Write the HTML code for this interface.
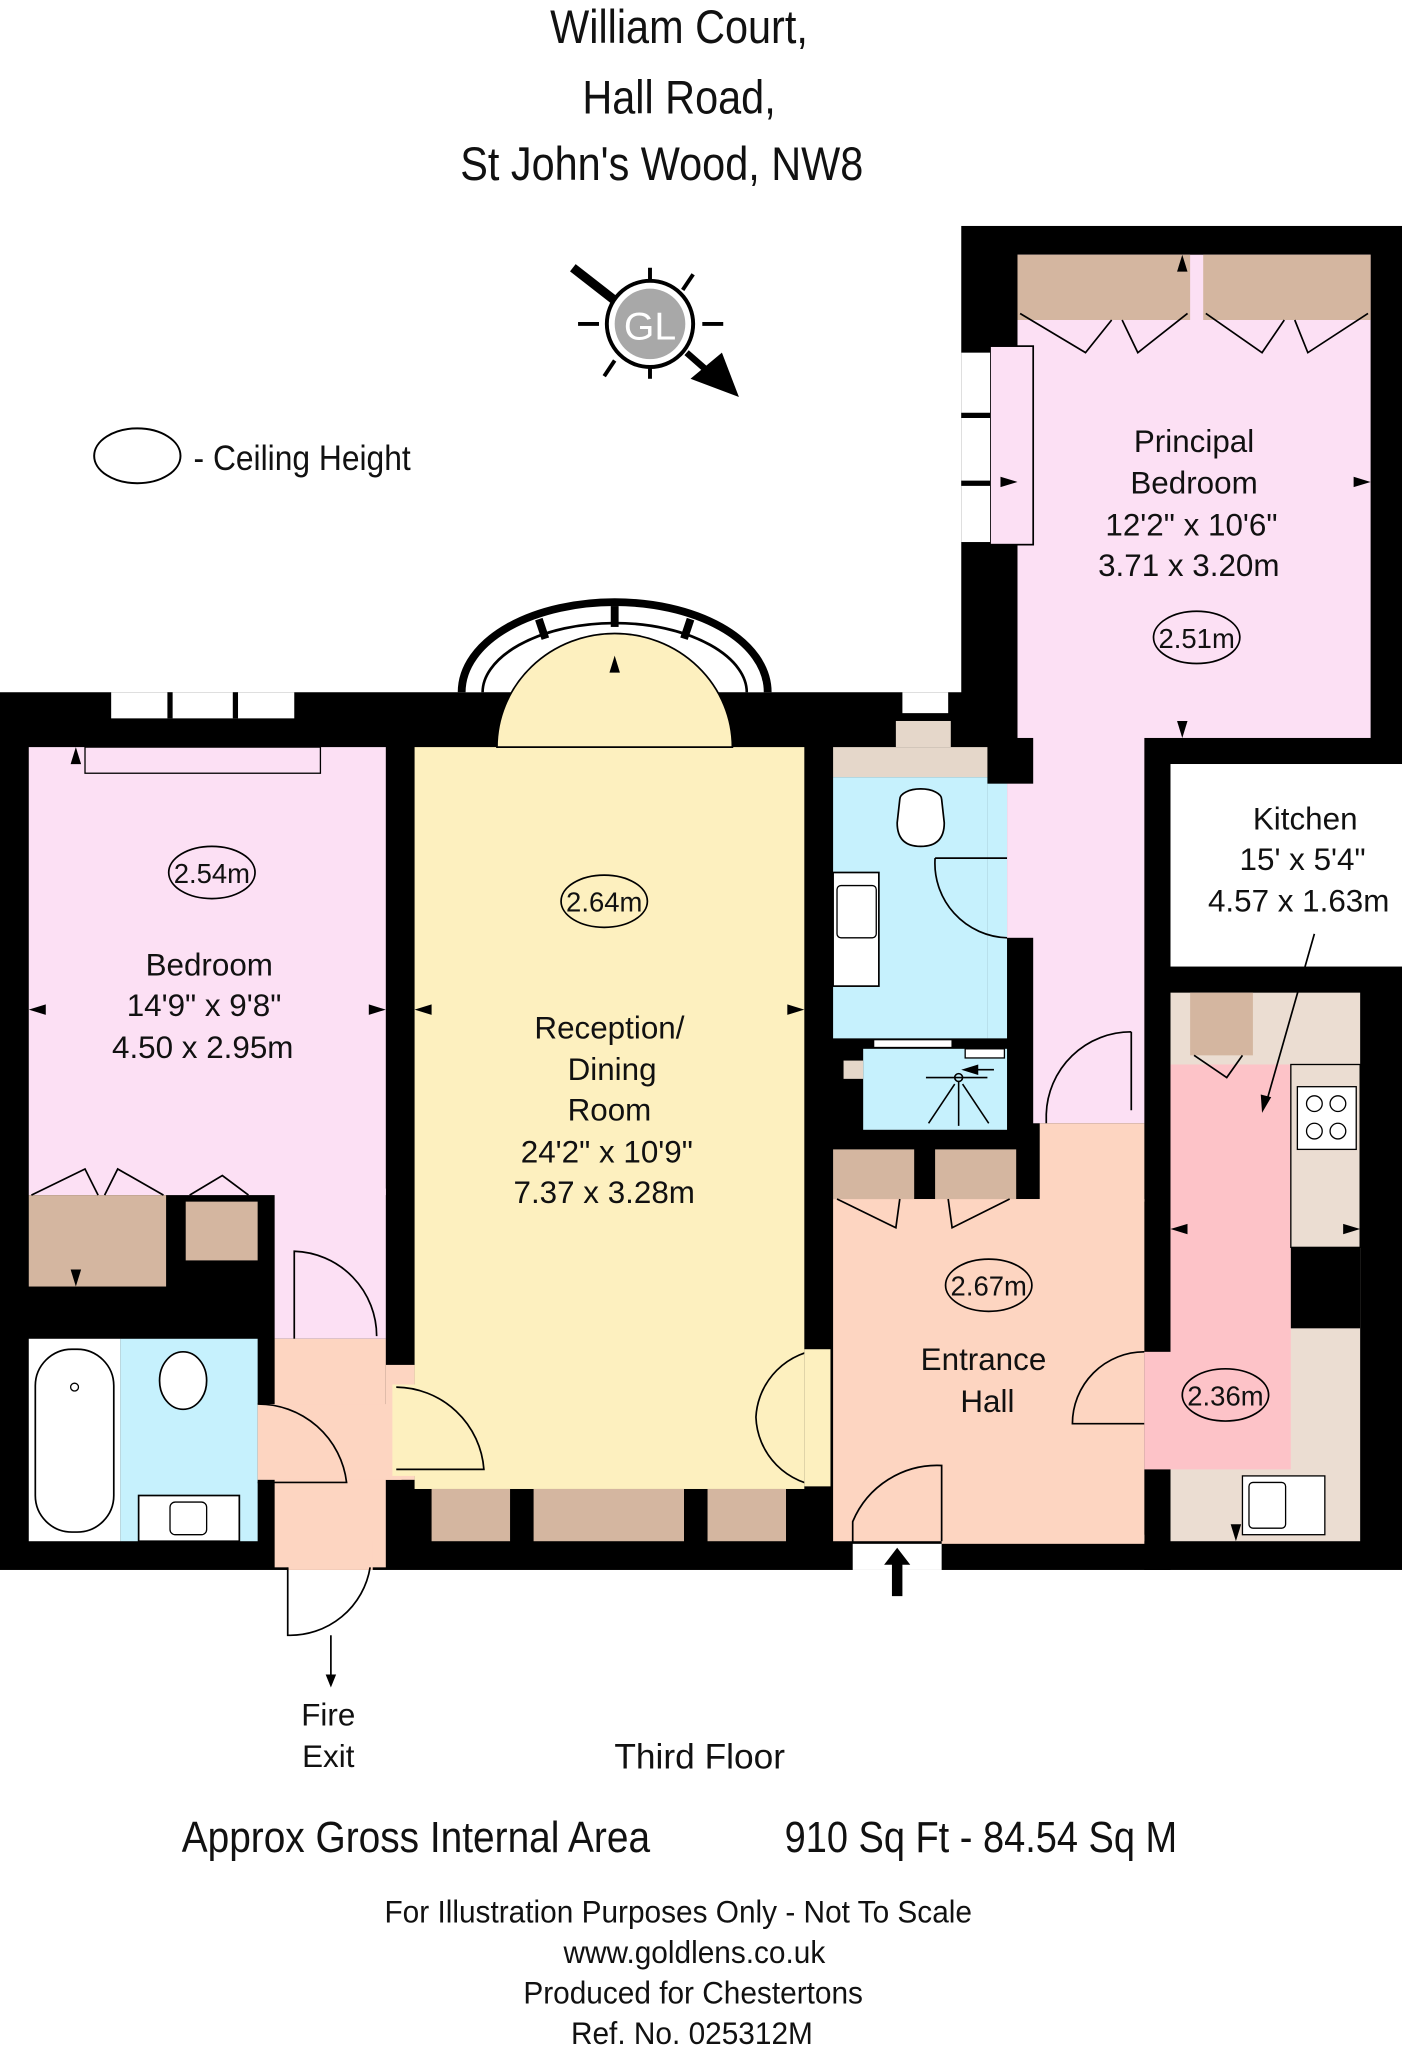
<!DOCTYPE html>
<html><head><meta charset="utf-8"><style>
html,body{margin:0;padding:0;background:#fff;}
svg{display:block;}
text{font-family:"Liberation Sans",sans-serif;fill:#111;}
</style></head><body>
<svg width="1402" height="2048" viewBox="0 0 1072 1568" preserveAspectRatio="none" xmlns="http://www.w3.org/2000/svg">
<g font-size="36" text-anchor="middle" transform="scale(0.88,1)">
<text x="590" y="33" font-size="36">William Court,</text>
<text x="590" y="87" font-size="36">Hall Road,</text>
<text x="575" y="138" font-size="36">St John's Wood, NW8</text>
</g>
<g stroke="#000" stroke-width="3">
<line x1="497" y1="205" x2="497" y2="222"/><line x1="497" y1="272" x2="497" y2="290"/>
<line x1="442" y1="248" x2="458" y2="248"/><line x1="537" y1="248" x2="553" y2="248"/>
<line x1="462" y1="288" x2="470" y2="276"/><line x1="530" y1="210" x2="522" y2="222"/>
<line x1="438" y1="205" x2="470" y2="230" stroke-width="7"/>
<line x1="525" y1="270" x2="550" y2="292" stroke-width="5"/>
</g>
<polygon points="565,304 528,290 552,270" fill="#000"/>
<circle cx="497" cy="248" r="33" fill="#fff" stroke="#000" stroke-width="3"/>
<circle cx="497" cy="248" r="27" fill="#a8a8a8"/>
<text x="497" y="260" font-size="30" text-anchor="middle" style="fill:#fff">GL</text>
<ellipse cx="105" cy="349" rx="33" ry="21" fill="#fff" stroke="#000" stroke-width="1.5"/>
<text x="148" y="360" font-size="27" transform="translate(148,0) scale(0.9,1) translate(-148,0)">- Ceiling Height</text>

<rect x="735" y="173" width="337" height="412" fill="#000"/>
<rect x="0" y="530" width="895" height="672" fill="#000"/>
<rect x="875" y="565" width="20" height="637" fill="#000"/>
<rect x="875" y="740" width="197" height="462" fill="#000"/>
<rect x="735" y="560" width="160" height="30" fill="#000"/>
<rect x="895" y="585" width="177" height="155" fill="#fff"/>

<rect x="778" y="195" width="270" height="370" fill="#fce0f4"/>
<rect x="790" y="560" width="85" height="300" fill="#fce0f4"/>
<rect x="770" y="600" width="25" height="118" fill="#fce0f4"/>
<rect x="778" y="195" width="132" height="50" fill="#d4b6a0"/>
<rect x="920" y="195" width="128" height="50" fill="#d4b6a0"/>
<g fill="none" stroke="#000" stroke-width="1.3">
<polyline points="780,240 830,270 850,245"/><polyline points="908,240 870,270 858,245"/>
<polyline points="922,240 965,270 982,245"/><polyline points="1046,240 1000,270 990,245"/>
<rect x="757" y="265" width="33" height="152" fill="#fce0f4"/>
</g>
<rect x="735" y="270" width="22" height="145" fill="#fff"/>
<line x1="735" y1="318" x2="757" y2="318" stroke="#000" stroke-width="4"/>
<line x1="735" y1="370" x2="757" y2="370" stroke="#000" stroke-width="4"/>

<rect x="22" y="572" width="273" height="343" fill="#fce0f4"/>
<rect x="210" y="910" width="85" height="115" fill="#fce0f4"/>
<rect x="22" y="915" width="105" height="70" fill="#d4b6a0"/>
<rect x="142" y="920" width="55" height="45" fill="#d4b6a0"/>
<rect x="65" y="572" width="180" height="20" fill="#fce0f4" stroke="#000" stroke-width="1"/>
<rect x="85" y="530" width="140" height="20" fill="#fff"/>
<line x1="130" y1="530" x2="130" y2="550" stroke="#000" stroke-width="4"/>
<line x1="180" y1="530" x2="180" y2="550" stroke="#000" stroke-width="4"/>
<g fill="none" stroke="#000" stroke-width="1.3">
<polyline points="24,915 65,895 75,915"/><polyline points="125,915 90,895 80,915"/>
<polyline points="145,915 170,900 190,915"/>
<path d="M225,1025 L225,958 A65,65 0 0 1 288,1023"/>
</g>

<rect x="22" y="1025" width="70" height="155" fill="#fff"/>
<rect x="92" y="1025" width="105" height="155" fill="#c6f1fd"/>
<rect x="27" y="1033" width="60" height="140" rx="28" fill="#fff" stroke="#000" stroke-width="1.3"/>
<circle cx="57" cy="1062" r="3" fill="none" stroke="#000"/>
<ellipse cx="140" cy="1057" rx="18" ry="22" fill="#fff" stroke="#000" stroke-width="1.3"/>
<rect x="106" y="1145" width="77" height="35" fill="#fff" stroke="#000" stroke-width="1.3"/>
<rect x="130" y="1150" width="28" height="25" rx="4" fill="none" stroke="#000"/>
<rect x="210" y="1025" width="85" height="175" fill="#fdd5c1"/>
<rect x="197" y="1075" width="110" height="58" fill="#fdd5c1"/>
<rect x="295" y="1045" width="22" height="88" fill="#fdd5c1"/>
<rect x="220" y="1180" width="65" height="22" fill="#fdd5c1"/>
<g fill="none" stroke="#000" stroke-width="1.3">
<path d="M197,1075 A68,68 0 0 1 265,1135 L197,1135"/>
<path d="M220,1200 L220,1252 A62,62 0 0 0 283,1200"/>
<line x1="253" y1="1252" x2="253" y2="1285"/>
</g>
<polygon points="253,1292 249,1282 257,1282" fill="#000"/>

<rect x="317" y="572" width="298" height="568" fill="#fdf0bf"/>
<path d="M360,530 A110,62 0 0 1 580,530" fill="none" stroke="#000" stroke-width="20"/>
<path d="M362,530 A108,60 0 0 1 578,530" fill="none" stroke="#fff" stroke-width="12"/>
<g stroke="#000" stroke-width="6">
<line x1="470" y1="464" x2="470" y2="480"/>
<line x1="412" y1="474" x2="417" y2="489"/><line x1="528" y1="474" x2="523" y2="489"/>
</g>
<path d="M380,572 A90,87 0 0 1 560,572 Z" fill="#fdf0bf" stroke="#000" stroke-width="1.3"/>
<rect x="330" y="1140" width="60" height="40" fill="#d4b6a0"/>
<rect x="408" y="1140" width="115" height="40" fill="#d4b6a0"/>
<rect x="541" y="1140" width="60" height="40" fill="#d4b6a0"/>
<rect x="300" y="1060" width="20" height="70" fill="#fdf0bf"/>
<g fill="none" stroke="#000" stroke-width="1.3">
<path d="M303,1062 A68,68 0 0 1 370,1125 L303,1125"/>
<path d="M630,1033 A55,55 0 0 0 578,1085 M630,1138 A55,55 0 0 1 578,1085"/>
</g>
<rect x="615" y="1033" width="20" height="105" fill="#fdf0bf"/>

<rect x="637" y="572" width="118" height="23" fill="#e5d7ca"/>
<rect x="685" y="552" width="42" height="20" fill="#e5d7ca"/>
<rect x="690" y="530" width="35" height="16" fill="#fff"/>
<rect x="637" y="595" width="118" height="200" fill="#c6f1fd"/>
<rect x="755" y="600" width="15" height="195" fill="#c6f1fd"/>
<path d="M688,612 A16,8 0 0 1 720,612 L722,630 Q722,648 704,648 Q686,648 686,630 Z" fill="#fff" stroke="#000" stroke-width="1.3"/>
<rect x="637" y="668" width="35" height="87" fill="#fff" stroke="#000" stroke-width="1.3"/>
<rect x="640" y="678" width="30" height="40" rx="3" fill="#fff" stroke="#000"/>
<path d="M715,657 L770,657 M715,657 A57,57 0 0 0 770,718" fill="none" stroke="#000" stroke-width="1.3"/>
<rect x="660" y="803" width="110" height="62" fill="#c6f1fd"/>
<rect x="645" y="812" width="15" height="14" fill="#e5d7ca"/>
<rect x="668" y="796" width="60" height="6" fill="#fff" stroke="#000" stroke-width="1"/>
<rect x="738" y="803" width="30" height="7" fill="#fff" stroke="#000" stroke-width="1"/>
<g stroke="#000" stroke-width="1.2" fill="none">
<circle cx="733" cy="825" r="3"/><line x1="708" y1="825" x2="755" y2="825"/>
<line x1="733" y1="828" x2="733" y2="862"/><line x1="730" y1="830" x2="710" y2="860"/><line x1="736" y1="830" x2="756" y2="860"/>
<line x1="738" y1="819" x2="760" y2="819"/>
</g>
<polygon points="735,819 748,815 748,823" fill="#000"/>

<rect x="637" y="918" width="238" height="262" fill="#fdd5c1"/>
<rect x="795" y="860" width="80" height="60" fill="#fdd5c1"/>
<rect x="720" y="1175" width="155" height="7" fill="#fdd5c1"/>
<rect x="637" y="880" width="62" height="38" fill="#d4b6a0"/>
<rect x="715" y="880" width="62" height="38" fill="#d4b6a0"/>
<g fill="none" stroke="#000" stroke-width="1.3">
<polyline points="640,918 685,940 688,918"/><polyline points="772,918 728,940 725,918"/>
<path d="M865,790 A65,65 0 0 0 800,853 L800,860 M865,790 L865,850"/>
<path d="M652,1200 L652,1165 A70,70 0 0 1 720,1122 L720,1180"/>
<path d="M875,1035 A55,55 0 0 0 820,1090 L875,1090"/>
</g>
<rect x="652" y="1182" width="68" height="20" fill="#fff"/>
<polygon points="686,1185 676,1198 682,1198 682,1222 690,1222 690,1198 696,1198" fill="#000"/>

<rect x="895" y="760" width="145" height="420" fill="#ebddd2"/>
<rect x="910" y="760" width="48" height="48" fill="#d4b6a0"/>
<rect x="895" y="815" width="92" height="310" fill="#fdc3c8"/>
<rect x="875" y="1035" width="20" height="90" fill="#fdc3c8"/>
<rect x="987" y="955" width="53" height="62" fill="#000"/>
<rect x="987" y="815" width="53" height="140" fill="#ebddd2" stroke="#000" stroke-width="1"/>
<rect x="992" y="832" width="45" height="48" fill="#fff" stroke="#000"/>
<g fill="none" stroke="#000"><circle cx="1005" cy="845" r="6"/><circle cx="1023" cy="845" r="6"/><circle cx="1005" cy="866" r="6"/><circle cx="1023" cy="866" r="6"/></g>
<rect x="950" y="1130" width="63" height="45" fill="#fff" stroke="#000"/>
<rect x="955" y="1135" width="28" height="35" rx="3" fill="none" stroke="#000"/>
<polyline points="913,808 938,825 950,808" fill="none" stroke="#000" stroke-width="1.3"/>
<line x1="1005" y1="715" x2="968" y2="845" stroke="#000" stroke-width="1.3"/>
<polygon points="965,852 964,838 972,840" fill="#000"/>

<g fill="#000">
<polygon points="22,773 35,769 35,777"/><polygon points="295,773 282,769 282,777"/>
<polygon points="317,773 330,769 330,777"/><polygon points="615,773 602,769 602,777"/>
<polygon points="470,502 466,515 474,515"/><polygon points="58,572 54,585 62,585"/>
<polygon points="58,985 54,972 62,972"/>
<polygon points="778,369 765,365 765,373"/><polygon points="1048,369 1035,365 1035,373"/>
<polygon points="904,195 900,208 908,208"/><polygon points="904,565 900,552 908,552"/>
<polygon points="895,941 908,937 908,945"/><polygon points="1040,941 1027,937 1027,945"/>
<polygon points="945,1180 941,1167 949,1167"/>
</g>

<g fill="none" stroke="#000" stroke-width="1.3">
<ellipse cx="162" cy="668" rx="33" ry="20"/><ellipse cx="462" cy="690" rx="33" ry="20"/>
<ellipse cx="915" cy="488" rx="33" ry="20"/><ellipse cx="756" cy="984" rx="33" ry="20"/>
<ellipse cx="937" cy="1068" rx="33" ry="20"/>
</g>
<g font-size="21" text-anchor="middle">
<text x="162" y="676">2.54m</text><text x="462" y="698">2.64m</text>
<text x="915" y="496">2.51m</text><text x="756" y="992">2.67m</text><text x="937" y="1076">2.36m</text>
</g>

<g font-size="24" text-anchor="middle">
<text x="913" y="346">Principal</text><text x="913" y="378">Bedroom</text>
<text x="911" y="410">12'2" x 10'6"</text><text x="909" y="441">3.71 x 3.20m</text>
<text x="160" y="747">Bedroom</text><text x="156" y="778">14'9" x 9'8"</text><text x="155" y="810">4.50 x 2.95m</text>
<text x="466" y="795">Reception/</text><text x="468" y="827">Dining</text><text x="466" y="858">Room</text>
<text x="464" y="890">24'2" x 10'9"</text><text x="462" y="921">7.37 x 3.28m</text>
<text x="998" y="635">Kitchen</text><text x="996" y="666">15' x 5'4"</text><text x="993" y="698">4.57 x 1.63m</text>
<text x="752" y="1049">Entrance</text><text x="755" y="1081">Hall</text>
<text x="251" y="1321">Fire</text><text x="251" y="1353">Exit</text>
<text x="535" y="1354" font-size="27">Third Floor</text>
</g>
<g transform="translate(318,0) scale(0.9,1) translate(-318,0)"><text x="318" y="1418" font-size="33" text-anchor="middle">Approx Gross Internal Area</text></g>
<g transform="translate(750,0) scale(0.88,1) translate(-750,0)"><text x="750" y="1418" font-size="33" text-anchor="middle">910 Sq Ft  -  84.54 Sq M</text></g>
<g font-size="24" text-anchor="middle" transform="translate(530,0) scale(0.95,1) translate(-530,0)">
<text x="518" y="1472">For Illustration Purposes Only - Not To Scale</text>
<text x="531" y="1503">www.goldlens.co.uk</text>
<text x="530" y="1534">Produced for Chestertons</text>
<text x="529" y="1565">Ref. No. 025312M</text>
</g>
</svg>
</body></html>
